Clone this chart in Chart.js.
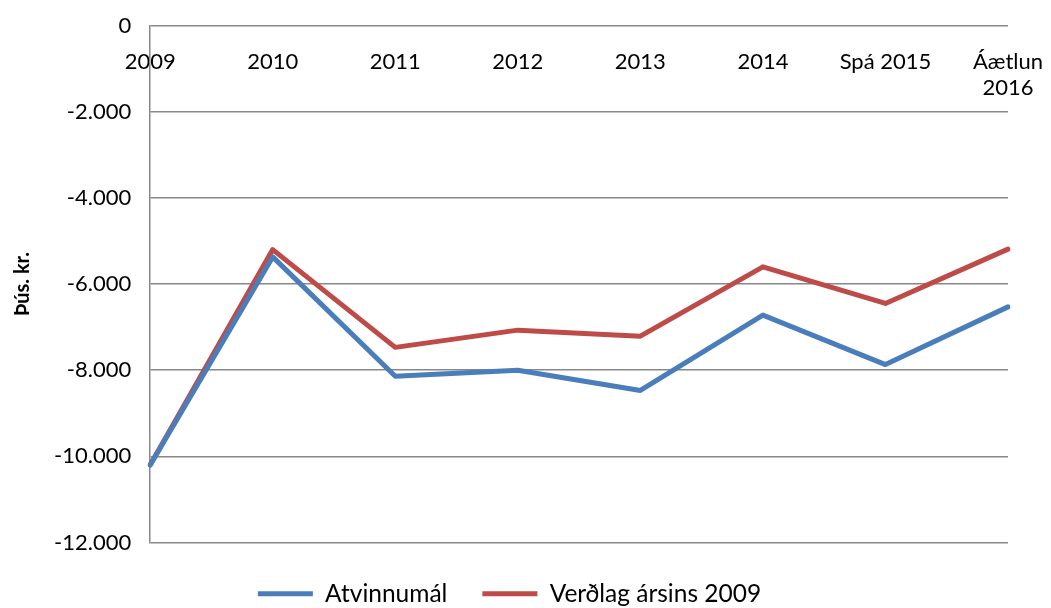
<!DOCTYPE html>
<html lang="is">
<head>
<meta charset="UTF-8">
<title>Atvinnumál</title>
<style>
  html, body { margin: 0; padding: 0; background: #fff; }
  #wrap { width: 1051px; height: 608px; }
</style>
</head>
<body>
<div id="wrap"><canvas id="myChart"></canvas></div>

<script src="https://cdn.jsdelivr.net/npm/chart.js/dist/chart.umd.min.js"></script>
<script>
// categories and series (þús. kr.)
const years = ['2009', '2010', '2011', '2012', '2013', '2014', 'Spá 2015', ['Áætlun', '2016']];
const atvinnumal = [-10200, -5370, -8140, -8000, -8470, -6720, -7870, -6530];
const verdlag2009 = [-10200, -5200, -7470, -7070, -7210, -5600, -6450, -5190];
const yTicks = [0, -2000, -4000, -6000, -8000, -10000, -12000];

const FONT = 'Lato, "Open Sans", sans-serif';

function fmt(v) {
    // íslensk þúsundaskil
    const s = Math.abs(v).toString().replace(/\B(?=(\d{3})+(?!\d))/g, '.');
    return (v < 0 ? '-' : '') + s;
}

// push the legend down a bit, away from the plot
const legendGap = {
    id: 'legendGap',
    afterLayout(chart) {
        chart.legend.top += 4;
        chart.legend.bottom += 4;
    }
};

const config = {
    type: 'line',
    data: {
        labels: years,
        datasets: [{
            label: 'Atvinnumál',
            data: atvinnumal,
            borderColor: '#4A7EBB',
            backgroundColor: '#4A7EBB',
            borderWidth: 5,
            borderJoinStyle: 'round',
            borderCapStyle: 'round',
            pointRadius: 0,
            tension: 0
        },
        {
            label: 'Verðlag ársins 2009',
            data: verdlag2009,
            borderColor: '#BE4B48',
            backgroundColor: '#BE4B48',
            borderWidth: 5,
            borderJoinStyle: 'round',
            borderCapStyle: 'round',
            pointRadius: 0,
            tension: 0
        }]
    },
    options: {
        responsive: true,
        maintainAspectRatio: false,
        animation: false,
        layout: { padding: { left: 11, right: 43, top: 0, bottom: -4 } },
        plugins: {
            tooltip: { enabled: false },
            legend: {
                position: 'bottom',
                labels: {
                    usePointStyle: true,
                    pointStyle: 'line',
                    pointStyleWidth: 55,
                    color: '#000',
                    font: { family: FONT, size: 24.5 },
                    padding: 35
                }
            }
        },
        scales: {
            x: {
                position: { y: 0 },
                offset: false,
                grid: { display: false },
                border: { display: false },
                afterFit: (scale) => { scale.paddingLeft = 0; scale.paddingRight = 0; },
                ticks: {
                    color: '#000',
                    font: { family: FONT, size: 22 },
                    maxRotation: 0,
                    autoSkip: false,
                    padding: 15
                }
            },
            y: {
                min: -12000,
                max: 0,
                afterBuildTicks: (scale) => { scale.ticks = yTicks.map(v => ({ value: v })); },
                grid: { color: '#888', lineWidth: 1.5, drawTicks: false },
                border: { display: true, color: '#888', width: 1.5 },
                ticks: {
                    color: '#000',
                    font: { family: FONT, size: 22, lineHeight: 0.6 },
                    padding: 19,
                    callback: (v) => fmt(v)
                },
                title: {
                    display: true,
                    text: 'Þús. kr.',
                    color: '#000',
                    font: { family: FONT, size: 20, weight: 'bold' },
                    padding: { top: 0, bottom: 0 }
                }
            }
        }
    },
    plugins: [legendGap]
};

const myChart = new Chart(document.getElementById('myChart'), config);
</script>
</body>
</html>
